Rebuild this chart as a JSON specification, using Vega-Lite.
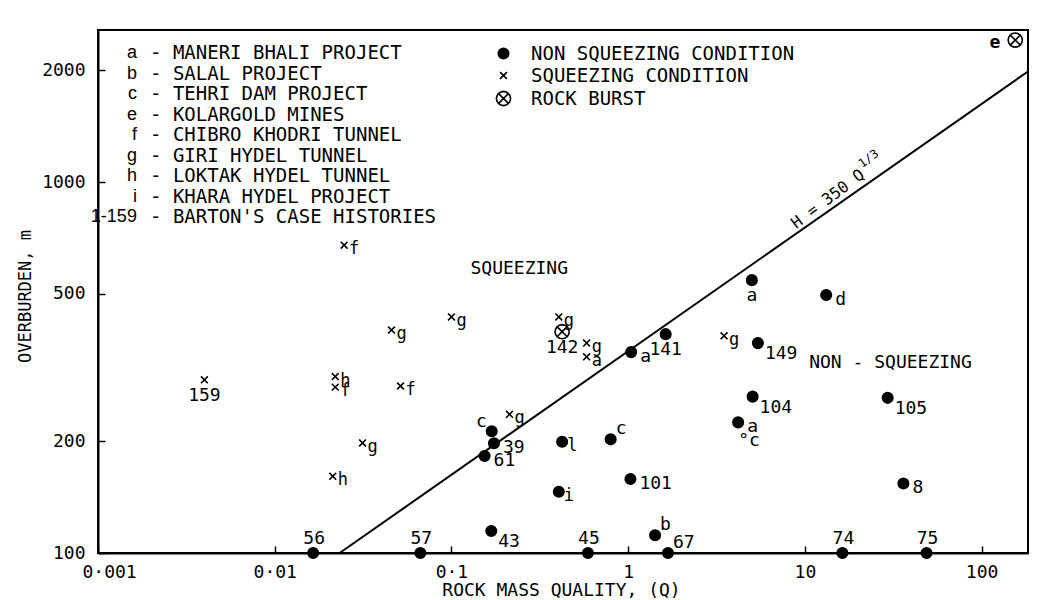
{
  "$schema": "https://vega.github.io/schema/vega-lite/v6.json",
  "width": 930,
  "height": 523,
  "autosize": {"type": "none"},
  "padding": {"left": 98, "top": 30, "right": 12, "bottom": 47},
  "background": "white",
  "config": {
    "font": "DejaVu Sans Mono",
    "view": {"stroke": "black", "strokeWidth": 2},
    "text": {"font": "DejaVu Sans Mono", "fontSize": 18, "color": "black", "baseline": "middle"},
    "axis": {
      "grid": false,
      "domainColor": "black",
      "domainWidth": 2,
      "tickColor": "black",
      "tickWidth": 1.5,
      "tickSize": -7,
      "labelColor": "black",
      "labelFont": "DejaVu Sans Mono",
      "labelFontSize": 18,
      "titleFont": "DejaVu Sans Mono",
      "titleFontSize": 18,
      "titleFontWeight": "normal",
      "titleColor": "black"
    },
    "legend": {"labelFont": "DejaVu Sans Mono", "labelFontSize": 19, "labelColor": "black", "padding": 0}
  },
  "datasets": {
    "points": [
      {"q": 0.0165, "h": 100, "condition": "NON SQUEEZING CONDITION", "label": "56", "pos": "T"},
      {"q": 0.0667, "h": 100, "condition": "NON SQUEEZING CONDITION", "label": "57", "pos": "T"},
      {"q": 0.168, "h": 114.6, "condition": "NON SQUEEZING CONDITION", "label": "43", "pos": "BR"},
      {"q": 0.154, "h": 182.6, "condition": "NON SQUEEZING CONDITION", "label": "61", "pos": "R"},
      {"q": 0.174, "h": 197.6, "condition": "NON SQUEEZING CONDITION", "label": "39", "pos": "R"},
      {"q": 0.169, "h": 213, "condition": "NON SQUEEZING CONDITION", "label": "c", "pos": "TL"},
      {"q": 0.423, "h": 199.5, "condition": "NON SQUEEZING CONDITION", "label": "l", "pos": "r"},
      {"q": 0.405, "h": 146.3, "condition": "NON SQUEEZING CONDITION", "label": "i", "pos": "r"},
      {"q": 0.796, "h": 202.5, "condition": "NON SQUEEZING CONDITION", "label": "c", "pos": "TR"},
      {"q": 1.03, "h": 158.3, "condition": "NON SQUEEZING CONDITION", "label": "101", "pos": "R"},
      {"q": 1.42, "h": 111.6, "condition": "NON SQUEEZING CONDITION", "label": "b", "pos": "TR"},
      {"q": 0.592, "h": 100, "condition": "NON SQUEEZING CONDITION", "label": "45", "pos": "T"},
      {"q": 1.68, "h": 100, "condition": "NON SQUEEZING CONDITION", "label": "67", "pos": "TR"},
      {"q": 1.04, "h": 348, "condition": "NON SQUEEZING CONDITION", "label": "a", "pos": "R"},
      {"q": 1.63, "h": 389, "condition": "NON SQUEEZING CONDITION", "label": "141", "pos": "B"},
      {"q": 5.01, "h": 544, "condition": "NON SQUEEZING CONDITION", "label": "a", "pos": "B"},
      {"q": 13.2, "h": 496, "condition": "NON SQUEEZING CONDITION", "label": "d", "pos": "R"},
      {"q": 5.42, "h": 368, "condition": "NON SQUEEZING CONDITION", "label": "149", "pos": "BR"},
      {"q": 5.06, "h": 264, "condition": "NON SQUEEZING CONDITION", "label": "104", "pos": "BR"},
      {"q": 4.19, "h": 225, "condition": "NON SQUEEZING CONDITION", "label": "a", "pos": "R"},
      {"q": 29.4, "h": 262, "condition": "NON SQUEEZING CONDITION", "label": "105", "pos": "BR"},
      {"q": 36.1, "h": 154, "condition": "NON SQUEEZING CONDITION", "label": "8", "pos": "R"},
      {"q": 16.3, "h": 100, "condition": "NON SQUEEZING CONDITION", "label": "74", "pos": "T"},
      {"q": 48.8, "h": 100, "condition": "NON SQUEEZING CONDITION", "label": "75", "pos": "T"},
      {"q": 0.004, "h": 293, "condition": "SQUEEZING CONDITION", "label": "159", "pos": "B"},
      {"q": 0.0247, "h": 676, "condition": "SQUEEZING CONDITION", "label": "f", "pos": "r"},
      {"q": 0.022, "h": 299, "condition": "SQUEEZING CONDITION", "label": "h", "pos": "r"},
      {"q": 0.022, "h": 280, "condition": "SQUEEZING CONDITION", "label": "f", "pos": "r"},
      {"q": 0.0213, "h": 161, "condition": "SQUEEZING CONDITION", "label": "h", "pos": "r"},
      {"q": 0.0314, "h": 198, "condition": "SQUEEZING CONDITION", "label": "g", "pos": "r"},
      {"q": 0.0515, "h": 282, "condition": "SQUEEZING CONDITION", "label": "f", "pos": "r"},
      {"q": 0.0458, "h": 399, "condition": "SQUEEZING CONDITION", "label": "g", "pos": "r"},
      {"q": 0.1, "h": 433, "condition": "SQUEEZING CONDITION", "label": "g", "pos": "r"},
      {"q": 0.405, "h": 433, "condition": "SQUEEZING CONDITION", "label": "g", "pos": "r"},
      {"q": 0.213, "h": 236.5, "condition": "SQUEEZING CONDITION", "label": "g", "pos": "r"},
      {"q": 0.582, "h": 368, "condition": "SQUEEZING CONDITION", "label": "g", "pos": "r"},
      {"q": 0.582, "h": 338, "condition": "SQUEEZING CONDITION", "label": "a", "pos": "r"},
      {"q": 3.49, "h": 385, "condition": "SQUEEZING CONDITION", "label": "g", "pos": "r"},
      {"q": 0.423, "h": 395, "condition": "ROCK BURST", "label": "142", "pos": "B"},
      {"q": 155, "h": 2414, "condition": "ROCK BURST", "label": "e", "pos": "L"}
    ],
    "line": [
      {"q": 0.0233, "h": 100},
      {"q": 183, "h": 1987}
    ],
    "notes": [
      {"q": 0.242, "h": 583, "text": "SQUEEZING"},
      {"q": 30.5, "h": 325, "text": "NON - SQUEEZING"},
      {"q": 4.83, "h": 200.5, "text": "°c"}
    ],
    "equation": [
      {"q": 14.6, "h": 856, "text": "H = 350 Q", "sup": "1/3"}
    ],
    "key": [
      {"code": "a", "desc": "- MANERI BHALI PROJECT"},
      {"code": "b", "desc": "- SALAL PROJECT"},
      {"code": "c", "desc": "- TEHRI DAM PROJECT"},
      {"code": "e", "desc": "- KOLARGOLD MINES"},
      {"code": "f", "desc": "- CHIBRO KHODRI TUNNEL"},
      {"code": "g", "desc": "- GIRI HYDEL TUNNEL"},
      {"code": "h", "desc": "- LOKTAK HYDEL TUNNEL"},
      {"code": "i", "desc": "- KHARA HYDEL PROJECT"},
      {"code": "1-159", "desc": "- BARTON'S CASE HISTORIES"}
    ]
  },
  "layer": [
    {
      "layer": [
        {
          "data": {"name": "line"},
          "mark": {"type": "line", "color": "black", "strokeWidth": 2},
          "encoding": {
            "x": {"field": "q", "type": "quantitative", "scale": {"type": "log", "domain": [0.001, 183], "nice": false},
              "axis": {"values": [0.001, 0.01, 0.1, 1, 10, 100], "labelExpr": "replace(toString(datum.value), '.', '·')", "labelPadding": 17, "labelFlush": true, "labelFlushOffset": 16, "title": "ROCK MASS QUALITY, (Q)", "titleX": 463, "titleY": 37, "titleBaseline": "middle"}},
            "y": {"field": "h", "type": "quantitative", "scale": {"type": "log", "domain": [100, 2570], "nice": false},
              "axis": {"values": [100, 200, 500, 1000, 2000], "format": "d", "labelPadding": 20, "labelFlush": false, "title": "OVERBURDEN, m", "titleFontSize": 17, "titleX": -73, "titleY": 266, "titleAngle": -90, "titleBaseline": "middle", "titleAlign": "center"}}
          }
        },
        {
          "data": {"name": "points"},
          "mark": {"type": "point", "stroke": "black", "strokeWidth": 1.6, "opacity": 1},
          "encoding": {
            "x": {"field": "q", "type": "quantitative"},
            "y": {"field": "h", "type": "quantitative"},
            "shape": {"field": "condition", "type": "nominal",
              "scale": {"domain": ["NON SQUEEZING CONDITION", "SQUEEZING CONDITION", "ROCK BURST"],
                "range": ["circle", "M-0.55,-0.55L0.55,0.55M-0.55,0.55L0.55,-0.55", "M1,0L0.924,0.383L0.707,0.707L0.383,0.924L0,1L-0.383,0.924L-0.707,0.707L-0.924,0.383L-1,0L-0.924,-0.383L-0.707,-0.707L-0.383,-0.924L0,-1L0.383,-0.924L0.707,-0.707L0.924,-0.383ZM-0.65,-0.65L0.65,0.65M-0.65,0.65L0.65,-0.65"]},
              "legend": {"title": null, "orient": "none", "legendX": 396, "legendY": 14, "labelOffset": 18, "rowPadding": 2, "symbolStrokeColor": "black", "symbolStrokeWidth": 1.6, "labelLimit": 500}},
            "fill": {"field": "condition", "type": "nominal",
              "scale": {"domain": ["NON SQUEEZING CONDITION", "SQUEEZING CONDITION", "ROCK BURST"], "range": ["black", "transparent", "white"]}},
            "size": {"field": "condition", "type": "nominal",
              "scale": {"domain": ["NON SQUEEZING CONDITION", "SQUEEZING CONDITION", "ROCK BURST"], "range": [110, 200], "padding": 0}}
          }
        },
        {
          "data": {"name": "points"},
          "transform": [{"filter": "datum.pos == 'r'"}],
          "mark": {"type": "text", "align": "left", "dx": 5, "dy": 4, "fontSize": 17},
          "encoding": {"x": {"field": "q", "type": "quantitative"}, "y": {"field": "h", "type": "quantitative"}, "text": {"field": "label"}}
        },
        {
          "data": {"name": "points"},
          "transform": [{"filter": "datum.pos == 'R'"}],
          "mark": {"type": "text", "align": "left", "dx": 9, "dy": 5},
          "encoding": {"x": {"field": "q", "type": "quantitative"}, "y": {"field": "h", "type": "quantitative"}, "text": {"field": "label"}}
        },
        {
          "data": {"name": "points"},
          "transform": [{"filter": "datum.pos == 'BR'"}],
          "mark": {"type": "text", "align": "left", "dx": 7, "dy": 11},
          "encoding": {"x": {"field": "q", "type": "quantitative"}, "y": {"field": "h", "type": "quantitative"}, "text": {"field": "label"}}
        },
        {
          "data": {"name": "points"},
          "transform": [{"filter": "datum.pos == 'T'"}],
          "mark": {"type": "text", "align": "center", "dx": 1, "dy": -14},
          "encoding": {"x": {"field": "q", "type": "quantitative"}, "y": {"field": "h", "type": "quantitative"}, "text": {"field": "label"}}
        },
        {
          "data": {"name": "points"},
          "transform": [{"filter": "datum.pos == 'TR'"}],
          "mark": {"type": "text", "align": "left", "dx": 5, "dy": -10},
          "encoding": {"x": {"field": "q", "type": "quantitative"}, "y": {"field": "h", "type": "quantitative"}, "text": {"field": "label"}}
        },
        {
          "data": {"name": "points"},
          "transform": [{"filter": "datum.pos == 'TL'"}],
          "mark": {"type": "text", "align": "right", "dx": -5, "dy": -9},
          "encoding": {"x": {"field": "q", "type": "quantitative"}, "y": {"field": "h", "type": "quantitative"}, "text": {"field": "label"}}
        },
        {
          "data": {"name": "points"},
          "transform": [{"filter": "datum.pos == 'B'"}],
          "mark": {"type": "text", "align": "center", "dx": 0, "dy": 16},
          "encoding": {"x": {"field": "q", "type": "quantitative"}, "y": {"field": "h", "type": "quantitative"}, "text": {"field": "label"}}
        },
        {
          "data": {"name": "points"},
          "transform": [{"filter": "datum.pos == 'L'"}],
          "mark": {"type": "text", "align": "right", "dx": -15, "dy": 3, "fontWeight": "bold"},
          "encoding": {"x": {"field": "q", "type": "quantitative"}, "y": {"field": "h", "type": "quantitative"}, "text": {"field": "label"}}
        },
        {
          "data": {"name": "notes"},
          "mark": {"type": "text", "align": "center"},
          "encoding": {"x": {"field": "q", "type": "quantitative"}, "y": {"field": "h", "type": "quantitative"}, "text": {"field": "text"}}
        },
        {
          "data": {"name": "equation"},
          "mark": {"type": "text", "align": "center", "angle": -37, "dy": -10, "fontSize": 16},
          "encoding": {"x": {"field": "q", "type": "quantitative"}, "y": {"field": "h", "type": "quantitative"}, "text": {"field": "text"}}
        },
        {
          "data": {"name": "equation"},
          "mark": {"type": "text", "align": "left", "angle": -37, "dx": 46, "dy": -18, "fontSize": 12},
          "encoding": {"x": {"field": "q", "type": "quantitative"}, "y": {"field": "h", "type": "quantitative"}, "text": {"field": "sup"}}
        }
      ]
    },
    {
      "data": {"name": "key"},
      "layer": [
        {
          "mark": {"type": "text", "align": "right", "fontSize": 18, "font": "Liberation Sans"},
          "encoding": {
            "x": {"datum": 0.00166, "type": "quantitative"},
            "y": {"field": "code", "type": "ordinal", "sort": null, "scale": {"type": "point", "range": [23, 187], "padding": 0}, "axis": null},
            "text": {"field": "code"}
          }
        },
        {
          "mark": {"type": "text", "align": "left", "fontSize": 19},
          "encoding": {
            "x": {"datum": 0.00197, "type": "quantitative"},
            "y": {"field": "code", "type": "ordinal", "sort": null, "scale": {"type": "point", "range": [23, 187], "padding": 0}, "axis": null},
            "text": {"field": "desc"}
          }
        }
      ]
    }
  ],
  "resolve": {"scale": {"y": "independent"}}
}
